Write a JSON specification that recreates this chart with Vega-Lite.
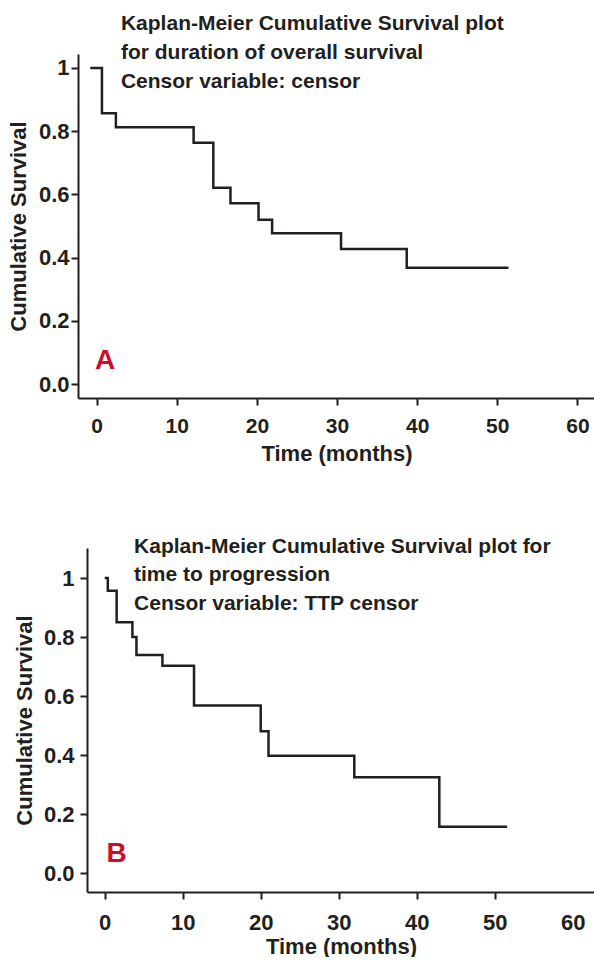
{
  "$schema": "https://vega.github.io/schema/vega-lite/v6.json",
  "background": "white",
  "padding": {"left": 7, "top": 12, "right": 0, "bottom": 0},
  "config": {
    "view": {"stroke": null},
    "font": "Liberation Sans",
    "axis": {
      "grid": false,
      "domainColor": "#231f20",
      "domainWidth": 2,
      "tickColor": "#231f20",
      "tickWidth": 2,
      "tickSize": 7,
      "labelColor": "#231f20",
      "titleColor": "#231f20",
      "labelFont": "Liberation Sans",
      "titleFont": "Liberation Sans",
      "labelFontWeight": "bold",
      "titleFontWeight": "bold",
      "labelFlush": false,
      "labelOverlap": false,
      "labelBound": false,
      "titleFontSize": 22
    }
  },
  "datasets": {
    "os": [
      {"time": -0.8, "survival": 1},
      {"time": 0.66, "survival": 0.857},
      {"time": 2.4, "survival": 0.812},
      {"time": 12.1, "survival": 0.763},
      {"time": 14.56, "survival": 0.621},
      {"time": 16.7, "survival": 0.572},
      {"time": 20.2, "survival": 0.52},
      {"time": 21.9, "survival": 0.477},
      {"time": 30.5, "survival": 0.427},
      {"time": 38.7, "survival": 0.368},
      {"time": 51.4, "survival": 0.368}
    ],
    "ttp": [
      {"time": 0, "survival": 1},
      {"time": 0.4, "survival": 0.957},
      {"time": 1.53, "survival": 0.85},
      {"time": 3.55, "survival": 0.8},
      {"time": 4.07, "survival": 0.739},
      {"time": 7.4, "survival": 0.703},
      {"time": 11.45, "survival": 0.568},
      {"time": 20.0, "survival": 0.481},
      {"time": 21.0, "survival": 0.398},
      {"time": 32.0, "survival": 0.325},
      {"time": 42.9, "survival": 0.158},
      {"time": 51.6, "survival": 0.158}
    ]
  },
  "spacing": 71,
  "vconcat": [
    {
      "width": 517,
      "height": 344,
      "layer": [
        {
          "data": {"name": "os"},
          "mark": {"type": "line", "interpolate": "step-after", "color": "#231f20", "strokeWidth": 2.5},
          "encoding": {
            "x": {
              "field": "time", "type": "quantitative",
              "scale": {"domain": [-2.33, 62.2], "nice": false, "zero": false},
              "axis": {"values": [0, 10, 20, 30, 40, 50, 60], "title": "Time (months)", "labelFontSize": 21, "labelPadding": 10, "titlePadding": 7}
            },
            "y": {
              "field": "survival", "type": "quantitative",
              "scale": {"domain": [-0.044, 1.044], "nice": false, "zero": false},
              "axis": {"values": [0, 0.2, 0.4, 0.6, 0.8, 1], "labelExpr": "datum.value == 1 ? '1' : format(datum.value, '.1f')", "title": "Cumulative Survival", "labelFontSize": 22, "labelPadding": 2, "titlePadding": 8}
            }
          }
        },
        {
          "data": {"values": [{}]},
          "mark": {"type": "text", "color": "#231f20", "font": "Liberation Sans", "fontWeight": "bold", "fontSize": 21, "lineHeight": 29, "align": "left", "baseline": "alphabetic"},
          "encoding": {
            "x": {"datum": 3.03},
            "y": {"datum": 1.12},
            "text": {"value": ["Kaplan-Meier Cumulative Survival plot", "for duration of overall survival", "Censor variable: censor"]}
          }
        },
        {
          "data": {"values": [{}]},
          "mark": {"type": "text", "color": "#c8102e", "font": "Liberation Sans", "fontWeight": "bold", "fontSize": 28, "align": "center", "baseline": "middle"},
          "encoding": {
            "x": {"datum": 1.04},
            "y": {"datum": 0.073},
            "text": {"value": "A"}
          }
        }
      ]
    },
    {
      "bounds": "flush",
      "spacing": 8,
      "hconcat": [
        {
          "width": 1,
          "height": 1,
          "data": {"values": []},
          "mark": "point"
        },
        {
          "width": 508,
          "height": 344,
          "layer": [
            {
              "data": {"name": "ttp"},
              "mark": {"type": "line", "interpolate": "step-after", "color": "#231f20", "strokeWidth": 2.5},
              "encoding": {
                "x": {
                  "field": "time", "type": "quantitative",
                  "scale": {"domain": [-2.27, 62.86], "nice": false, "zero": false},
                  "axis": {"values": [0, 10, 20, 30, 40, 50, 60], "title": "Time (months)", "labelFontSize": 22, "labelPadding": 13, "titlePadding": 3,
                           "tickOpacity": {"condition": {"test": "datum.value == 60", "value": 0}, "value": 1}}
                },
                "y": {
                  "field": "survival", "type": "quantitative",
                  "scale": {"domain": [-0.0633, 1.1016], "nice": false, "zero": false},
                  "axis": {"values": [0, 0.2, 0.4, 0.6, 0.8, 1], "labelExpr": "datum.value == 1 ? '1' : format(datum.value, '.1f')", "title": "Cumulative Survival", "labelFontSize": 22, "labelPadding": 6, "titlePadding": 7}
                }
              }
            },
            {
              "data": {"values": [{}]},
              "mark": {"type": "text", "color": "#231f20", "font": "Liberation Sans", "fontWeight": "bold", "fontSize": 21, "lineHeight": 28.5, "align": "left", "baseline": "alphabetic"},
              "encoding": {
                "x": {"datum": 3.76},
                "y": {"datum": 1.086},
                "text": {"value": ["Kaplan-Meier Cumulative Survival plot for", "time to progression", "Censor variable: TTP censor"]}
              }
            },
            {
              "data": {"values": [{}]},
              "mark": {"type": "text", "color": "#c8102e", "font": "Liberation Sans", "fontWeight": "bold", "fontSize": 28, "align": "center", "baseline": "middle"},
              "encoding": {
                "x": {"datum": 1.54},
                "y": {"datum": 0.066},
                "text": {"value": "B"}
              }
            }
          ]
        }
      ]
    }
  ]
}
